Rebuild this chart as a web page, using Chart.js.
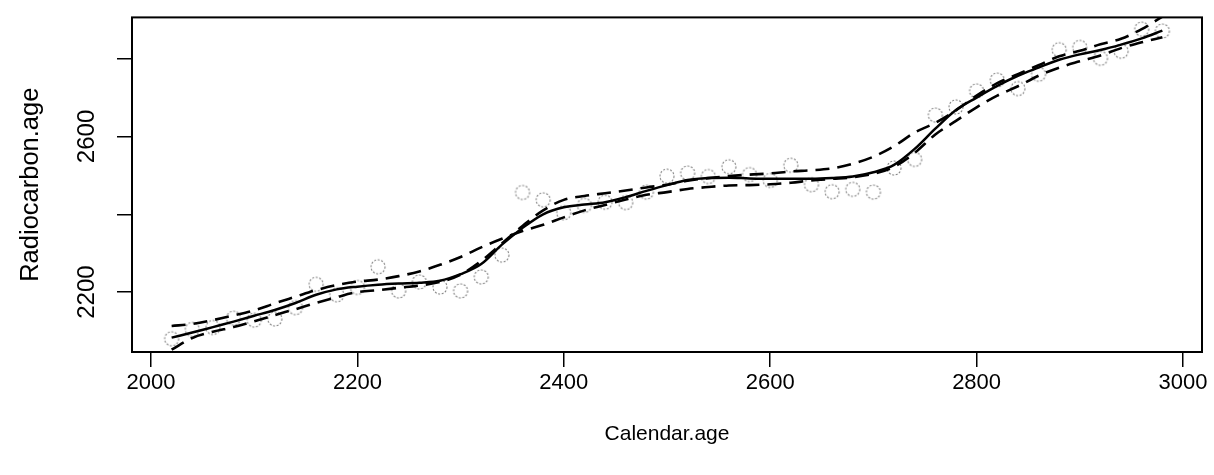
<!DOCTYPE html>
<html>
<head>
<meta charset="utf-8">
<script src="https://cdn.jsdelivr.net/npm/chart.js@4/dist/chart.umd.min.js"></script>
<style>
  html, body { margin: 0; padding: 0; background: #fff; }
  #c { display: block; }
</style>
</head>
<body>
<canvas id="c" width="1214" height="475"></canvas>
<script>
// Calendar ages of the samples (years)
const calendarAge = [2020, 2040, 2060, 2080, 2100, 2120, 2140, 2160, 2180, 2200,
                     2220, 2240, 2260, 2280, 2300, 2320, 2340, 2360, 2380, 2400,
                     2420, 2440, 2460, 2480, 2500, 2520, 2540, 2560, 2580, 2600,
                     2620, 2640, 2660, 2680, 2700, 2720, 2740, 2760, 2780, 2800,
                     2820, 2840, 2860, 2880, 2900, 2920, 2940, 2960, 2980];

// Measured radiocarbon ages (open circles)
const radiocarbonAge = [2080, 2104, 2109, 2133, 2128, 2131, 2160, 2220, 2193, 2212,
                        2265, 2203, 2226, 2213, 2203, 2239, 2295, 2456, 2437, 2404,
                        2423, 2431, 2430, 2457, 2498, 2506, 2497, 2522, 2502, 2487,
                        2526, 2476, 2458, 2464, 2457, 2519, 2541, 2655, 2676, 2717,
                        2745, 2723, 2760, 2823, 2829, 2801, 2819, 2876, 2871];

// Fitted curve (solid)
const fittedAge = [2083, 2096, 2110, 2124, 2139, 2154, 2172, 2193, 2207, 2214,
                   2219, 2222, 2224, 2229, 2246, 2272, 2322, 2365, 2400, 2418,
                   2425, 2431, 2444, 2460, 2475, 2488, 2493, 2494, 2492, 2491,
                   2491, 2491, 2493, 2497, 2508, 2527, 2568, 2620, 2668, 2700,
                   2730, 2756, 2777, 2797, 2811, 2822, 2836, 2852, 2872];

// Band curves (dashed)
const bandA = [2113, 2118, 2128, 2140, 2153, 2171, 2188, 2205, 2218, 2227,
               2232, 2241, 2253, 2270, 2290, 2315, 2337, 2357, 2373, 2392,
               2410, 2424, 2438, 2450, 2457, 2465, 2470, 2474, 2475, 2477,
               2481, 2487, 2491, 2495, 2504, 2522, 2558, 2605, 2640, 2675,
               2705, 2729, 2756, 2777, 2793, 2808, 2827, 2842, 2855];

const bandB = [2052, 2082, 2098, 2110, 2125, 2141, 2156, 2172, 2187, 2200,
               2205, 2211, 2217, 2226, 2245, 2280, 2325, 2370, 2410, 2437,
               2447, 2454, 2461, 2469, 2476, 2486, 2493, 2498, 2502, 2505,
               2510, 2513, 2518, 2530, 2548, 2575, 2610, 2635, 2667, 2705,
               2737, 2760, 2783, 2806, 2820, 2837, 2851, 2876, 2908];

// Axis ticks
const xTicks = [2000, 2200, 2400, 2600, 2800, 3000];
const yTicks = [2200, 2400, 2600, 2800];
const yTickLabels = ['2200', '', '2600', ''];

const pairs = (ys) => calendarAge.map((x, i) => ({ x: x, y: ys[i] }));

// Dotted open-circle marker
function dottedCircle() {
  const cv = document.createElement('canvas');
  cv.width = 18; cv.height = 18;
  const g = cv.getContext('2d');
  g.strokeStyle = '#808080';
  g.lineWidth = 1.1;
  g.setLineDash([2, 1.6]);
  g.beginPath();
  g.arc(9, 9, 7, 0, Math.PI * 2);
  g.stroke();
  return cv;
}
const marker = dottedCircle();

// Box around the plotting region
const frame = {
  id: 'frame',
  afterDatasetsDraw(chart) {
    const { ctx, chartArea: a } = chart;
    ctx.save();
    ctx.strokeStyle = '#000';
    ctx.lineWidth = 2;
    ctx.strokeRect(a.left, a.top, a.right - a.left, a.bottom - a.top);
    ctx.restore();
  }
};

const sans = '"Liberation Sans", Arial, sans-serif';

const lineBase = {
  showLine: true,
  pointRadius: 0,
  pointHoverRadius: 0,
  borderColor: '#000',
  borderWidth: 2.5,
  cubicInterpolationMode: 'monotone',
  fill: false
};

new Chart(document.getElementById('c'), {
  type: 'scatter',
  data: {
    datasets: [
      Object.assign({}, lineBase, { label: 'fit', data: pairs(fittedAge), order: 1 }),
      Object.assign({}, lineBase, { label: 'band A', data: pairs(bandA), borderDash: [14, 8], borderWidth: 2.6, order: 2 }),
      Object.assign({}, lineBase, { label: 'band B', data: pairs(bandB), borderDash: [14, 8], borderWidth: 2.6, order: 2 }),
      {
        label: 'Radiocarbon.age',
        data: pairs(radiocarbonAge),
        pointStyle: marker,
        pointRadius: 7,
        showLine: false,
        order: 5
      }
    ]
  },
  options: {
    responsive: false,
    animation: false,
    devicePixelRatio: 1,
    layout: { padding: { top: 12, right: 12, left: 0, bottom: 0 } },
    plugins: { legend: { display: false }, tooltip: { enabled: false } },
    scales: {
      x: {
        type: 'linear',
        min: 1981.6,
        max: 3018.4,
        border: { display: false },
        grid: { drawOnChartArea: false, drawTicks: true, tickLength: 15, color: '#000', lineWidth: 1.5 },
        afterBuildTicks: (s) => { s.ticks = xTicks.map(v => ({ value: v })); },
        afterFit: (s) => { s.height = 123; },
        ticks: {
          color: '#000',
          font: { family: sans, size: 22 },
          padding: 3,
          maxRotation: 0,
          autoSkip: false,
          callback: (v) => String(v)
        },
        title: {
          display: true,
          text: 'Calendar.age',
          color: '#000',
          font: { family: sans, size: 21 },
          padding: { top: 0, bottom: 28 }
        }
      },
      y: {
        type: 'linear',
        min: 2046,
        max: 2906,
        border: { display: false },
        grid: { drawOnChartArea: false, drawTicks: true, tickLength: 15, color: '#000', lineWidth: 1.5 },
        afterBuildTicks: (s) => { s.ticks = yTicks.map(v => ({ value: v })); },
        afterFit: (s) => { s.width = 132; },
        ticks: {
          color: '#000',
          font: { family: sans, size: 24 },
          minRotation: 90,
          maxRotation: 90,
          crossAlign: 'center',
          padding: 3,
          autoSkip: false,
          callback: (v) => yTickLabels[yTicks.indexOf(v)]
        },
        title: {
          display: true,
          text: 'Radiocarbon.age',
          color: '#000',
          font: { family: sans, size: 25.5 },
          padding: { top: 16, bottom: 0 }
        }
      }
    }
  },
  plugins: [frame]
});
</script>
</body>
</html>
